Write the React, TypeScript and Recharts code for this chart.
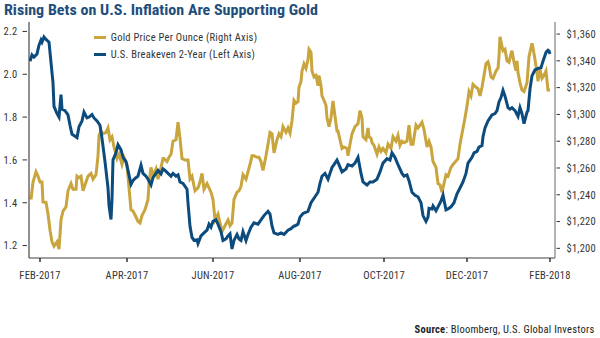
import React from 'react';
import { LineChart, Line, XAxis, YAxis, Legend } from 'recharts';

const FONT = '"Liberation Sans Narrow", "Roboto Condensed", "Arial Narrow", sans-serif';
const GOLD = '#c9a53e';
const BLUE = '#0c4b7e';
const TITLE = '#1f4e7d';
const TEXT = '#333333';
const LS = 0.25;

const tickLabels = ['FEB-2017', 'APR-2017', 'JUN-2017', 'AUG-2017', 'OCT-2017', 'DEC-2017', 'FEB-2018'];
const tickDays = [9, 96, 182, 269, 353, 436, 519];
const leftTicks = [1.2, 1.4, 1.6, 1.8, 2.0, 2.2];
const rightTicks = [1200, 1220, 1240, 1260, 1280, 1300, 1320, 1340, 1360];

const goldDays = [
  0, 2, 5, 7, 9, 11, 12, 15, 17, 19, 21, 23, 26, 28, 30, 32, 35, 37, 40, 42, 45, 46, 48, 50, 52, 55, 57, 60, 62, 65,
  67, 68, 70, 72, 75, 77, 79, 81, 83, 86, 88, 91, 93, 96, 98, 100, 102, 105, 107, 109, 111, 114, 117, 118, 120, 122, 125, 127, 130, 132,
  133, 136, 138, 140, 142, 145, 147, 149, 151, 154, 157, 159, 161, 164, 167, 169, 171, 173, 176, 178, 180, 182, 184, 187, 189, 191, 194, 197, 199, 201,
  203, 206, 208, 210, 212, 215, 217, 219, 221, 223, 226, 228, 230, 232, 235, 237, 239, 241, 243, 246, 248, 250, 252, 255, 257, 259, 261, 263,
  265, 267, 268, 270, 271, 273, 275, 277, 278, 280, 281, 283, 285, 287, 288, 290, 291, 293, 295, 296, 298, 300, 302, 304, 306, 307, 309, 311, 313, 316,
  317, 319, 321, 324, 327, 329, 331, 332, 335, 337, 338, 340, 341, 343, 346, 348, 350, 352, 355, 357, 360, 362, 365, 367, 369, 371, 373, 376, 378, 380,
  382, 385, 387, 389, 391, 393, 396, 398, 400, 402, 405, 407, 409, 411, 412, 415, 417, 420, 422, 425, 427, 429, 431, 434, 436, 438, 440, 442, 445, 447,
  449, 451, 453, 455, 457, 458, 460, 462, 465, 467, 468, 469, 471, 472, 474, 476, 478, 480, 481, 483, 485, 486, 487, 489, 491, 493, 496, 498, 501, 502,
  504, 506, 507, 509, 511, 513, 515, 517, 519,
];
const goldPrice = [
  1236.5, 1249.5, 1257.2, 1253.9, 1249.5, 1249.5, 1234.7, 1234.3, 1225.6, 1213.6, 1204.9, 1201.6, 1204.9, 1199.4, 1221.2, 1227.8, 1231, 1243, 1248.4, 1244.1, 1244.1, 1253.9, 1252.8, 1253.9, 1243, 1249.5, 1253.9, 1256, 1251.7, 1255,
  1269.1, 1284.4, 1287.6, 1285.5, 1286.6, 1289.9, 1281.1, 1283.3, 1275.7, 1267, 1270.3, 1262.6, 1268, 1262.6, 1245.2, 1228.8, 1227.8, 1223.4, 1220.1, 1219, 1224.5, 1228.8, 1236.5, 1248.4, 1260.5, 1253.9, 1259.3, 1251.7, 1260.5, 1267,
  1267, 1264.8, 1268, 1270.3, 1280, 1281.1, 1294.2, 1282.2, 1267, 1265.9, 1265.9, 1251.7, 1253.9, 1243, 1245.2, 1249.5, 1256, 1244.1, 1248.4, 1245.2, 1241.9, 1236.5, 1221.2, 1225.6, 1219, 1212.5, 1216.9, 1221.2, 1216.9, 1219,
  1236.5, 1241.9, 1243, 1246.3, 1255, 1251.7, 1257.2, 1262.6, 1269.1, 1269.1, 1268, 1268, 1264.8, 1258.2, 1269.1, 1277.8, 1286.6, 1285.5, 1271.3, 1281.1, 1285.5, 1283.3, 1290.9, 1286.6, 1289.9, 1286.1, 1295.3, 1310.5,
  1308.4, 1309.5, 1320.3, 1324.7, 1332.4, 1337.8, 1334.5, 1341, 1348.7, 1346.5, 1332.4, 1328, 1329.1, 1321.4, 1329.1, 1321.4, 1313.8, 1310.5, 1306.6, 1297.5, 1290.9, 1297.5, 1310.1, 1298.6, 1287.6, 1287.6, 1281.1, 1274.6, 1275.7, 1274.6,
  1269.1, 1277.8, 1285.5, 1290.9, 1293.1, 1302.9, 1297.5, 1283.3, 1281.1, 1289.9, 1283.3, 1282.2, 1278.9, 1276.8, 1270.3, 1275.7, 1272.4, 1274.6, 1271.3, 1277.8, 1274.6, 1283.3, 1280, 1284.4, 1276.8, 1280, 1278.9, 1280, 1292, 1277.8,
  1277.8, 1292, 1289.9, 1292, 1294.2, 1288.8, 1275.7, 1280, 1275.7, 1264.8, 1260.5, 1248.4, 1247.4, 1241.9, 1245.2, 1255, 1253.9, 1260.5, 1262.6, 1265.2, 1267, 1277.8, 1285.5, 1297.5, 1306.2, 1317.1, 1313.8, 1322.5, 1320.3, 1319.3,
  1313.8, 1320.3, 1329.1, 1337.8, 1339.3, 1336.7, 1328, 1326.9, 1332.4, 1334.5, 1343.2, 1358, 1350.8, 1347.6, 1348.7, 1339.9, 1338.9, 1345.4, 1347.6, 1338.9, 1332.7, 1339.9, 1331.2, 1323.6, 1318.2, 1317.1, 1323.6, 1343.2, 1353, 1349.7,
  1341, 1331.2, 1324.7, 1333.4, 1326.9, 1329.1, 1332.4, 1318.2, 1318.2,
];

const beDays = [
  -1, 1, 3, 6, 8, 10, 11, 13, 15, 18, 20, 22, 23, 26, 28, 30, 31, 34, 37, 39, 41, 43, 46, 48, 51, 53, 56, 58, 61, 63,
  66, 69, 71, 74, 77, 78, 80, 81, 82, 85, 87, 90, 92, 95, 97, 100, 102, 105, 107, 110, 112, 115, 117, 120, 122, 125, 127, 130, 132,
  134, 137, 140, 142, 145, 147, 149, 152, 156, 157, 159, 161, 163, 166, 167, 170, 173, 176, 178, 180, 182, 185, 187, 190, 192, 195, 197, 199, 201,
  203, 206, 208, 210, 212, 215, 217, 220, 223, 227, 230, 233, 237, 239, 241, 243, 247, 250, 253, 257, 260, 263,
  264, 267, 269, 272, 277, 280, 284, 287, 289, 291, 294, 297, 301, 303, 306, 308, 311, 315, 317, 321, 324, 327, 330, 332, 336, 339, 342, 346, 349, 352,
  356, 359, 361, 364, 367, 371, 373, 376, 378, 381, 384, 387,
  390, 392, 395, 397, 398, 401, 402, 405, 407, 410, 412, 415, 417, 420, 423, 426, 429, 432, 435, 437, 441, 443, 446, 448, 451, 452, 454, 457, 459, 461,
  464, 466, 468, 470, 472, 474, 477, 479, 481, 484, 487, 489, 491, 493, 496, 497, 499, 501, 504, 507, 510, 512, 515, 517, 518, 519,
];
const beValues = [
  2.061, 2.09, 2.08, 2.095, 2.136, 2.16, 2.15, 2.174, 2.163, 2.15, 2.055, 1.96, 1.85, 1.816, 1.8, 1.905, 1.837, 1.83, 1.81, 1.762, 1.72, 1.714, 1.704, 1.755, 1.782, 1.823, 1.796, 1.8, 1.812, 1.796,
  1.782, 1.762, 1.7, 1.592, 1.47, 1.388, 1.322, 1.415, 1.6, 1.633, 1.671, 1.647, 1.612, 1.592, 1.551, 1.486, 1.504, 1.517, 1.524, 1.575, 1.537, 1.524, 1.51, 1.483, 1.517, 1.537, 1.551, 1.535, 1.558,
  1.551, 1.537, 1.524, 1.537, 1.524, 1.53, 1.497, 1.49, 1.463, 1.4, 1.29, 1.238, 1.224, 1.227, 1.21, 1.245, 1.259, 1.272, 1.3, 1.286, 1.313, 1.32, 1.3, 1.265, 1.224, 1.231, 1.245, 1.255, 1.184,
  1.224, 1.252, 1.231, 1.224, 1.265, 1.224, 1.252, 1.286, 1.306, 1.3, 1.32, 1.34, 1.36, 1.347, 1.292, 1.259, 1.252, 1.259, 1.252, 1.272, 1.279, 1.292,
  1.292, 1.3, 1.333, 1.35, 1.36, 1.4, 1.428, 1.449, 1.49, 1.524, 1.537, 1.51, 1.565, 1.578, 1.599, 1.578, 1.544, 1.558, 1.578, 1.571, 1.585, 1.612, 1.537, 1.497, 1.483, 1.497, 1.497, 1.51, 1.544, 1.585,
  1.606, 1.599, 1.633, 1.612, 1.578, 1.537, 1.524, 1.53, 1.503, 1.449, 1.435, 1.428,
  1.4, 1.34, 1.313, 1.333, 1.374, 1.371, 1.385, 1.363, 1.381, 1.408, 1.435, 1.367, 1.371, 1.381, 1.4, 1.442, 1.469, 1.497, 1.537, 1.585, 1.612, 1.633, 1.64, 1.66, 1.667, 1.708, 1.749, 1.782, 1.796, 1.81,
  1.816, 1.83, 1.871, 1.891, 1.925, 1.898, 1.844, 1.837, 1.844, 1.83, 1.803, 1.844, 1.816, 1.769, 1.823, 1.83, 1.932, 1.993, 2.02, 2.027, 2.03, 2.061, 2.102, 2.112, 2.109, 2.095,
];

const goldData = goldDays.map((t, i) => ({ t, gold: goldPrice[i] }));
const beData = beDays.map((t, i) => ({ t, be: beValues[i] }));

const LeftTick = (props: any) => {
  const { x, y, payload } = props;
  return (
    <g>
      <line x1={x - 6.5} x2={x - 2} y1={y} y2={y} stroke="#333" strokeWidth={1} />
      <text x={x - 11.5} y={y + 3.8} textAnchor="end" fontSize={10.5} fill={TEXT} fontFamily={FONT} letterSpacing={LS}>
        {Number(payload.value).toFixed(1)}
      </text>
    </g>
  );
};

const RightTick = (props: any) => {
  const { x, y, payload } = props;
  return (
    <g>
      <line x1={x + 1.5} x2={x + 5} y1={y} y2={y} stroke="#333" strokeWidth={1} />
      <text x={x + 11.5} y={y + 3.8} textAnchor="start" fontSize={10.5} fill={TEXT} fontFamily={FONT} letterSpacing={LS}>
        {'$' + Number(payload.value).toLocaleString('en-US')}
      </text>
    </g>
  );
};

const BottomTick = (props: any) => {
  const { x, y, payload } = props;
  const idx = tickDays.indexOf(payload.value);
  return (
    <text x={x} y={y + 16.7} textAnchor="middle" fontSize={10.5} fill={TEXT} fontFamily={FONT} letterSpacing={LS}>
      {idx >= 0 ? tickLabels[idx] : ''}
    </text>
  );
};

const LegendContent = () => (
  <div style={{ fontFamily: FONT, fontSize: 10.5, color: TEXT, lineHeight: '17px', letterSpacing: LS, whiteSpace: 'nowrap' }}>
    {[
      { c: GOLD, l: 'Gold Price Per Ounce (Right Axis)' },
      { c: BLUE, l: 'U.S. Breakeven 2-Year (Left Axis)' },
    ].map((it) => (
      <div key={it.l} style={{ display: 'flex', alignItems: 'center', height: 17 }}>
        <span style={{ display: 'inline-block', width: 12, height: 3, background: it.c, marginRight: 4.7 }} />
        <span>{it.l}</span>
      </div>
    ))}
  </div>
);

export default function App() {
  return (
    <div style={{ position: 'absolute', left: 0, top: 0, width: 600, height: 338, background: '#fff', overflow: 'hidden' }}>
      <LineChart width={600} height={338} margin={{ top: 22, right: 0, bottom: 0, left: 0 }}>
        <XAxis
          type="number"
          dataKey="t"
          domain={[-2, 524]}
          ticks={tickDays}
          allowDataOverflow
          height={46}
          tickSize={4}
          tickMargin={0}
          stroke="#808080"
          strokeWidth={1.5}
          tickLine={{ stroke: '#333' }}
          tick={<BottomTick />}
        />
        <YAxis
          yAxisId="left"
          orientation="left"
          domain={[1.142, 2.244]}
          ticks={leftTicks}
          allowDataOverflow
          width={29}
          tickSize={0}
          tickMargin={0}
          tickLine={false}
          stroke="#222"
          tick={<LeftTick />}
        />
        <YAxis
          yAxisId="right"
          orientation="right"
          domain={[1192.8, 1369]}
          ticks={rightTicks}
          allowDataOverflow
          width={45}
          tickSize={0}
          tickMargin={0}
          tickLine={false}
          stroke="#666"
          tick={<RightTick />}
        />
        <Legend
          content={<LegendContent />}
          wrapperStyle={{ position: 'absolute', left: 94, top: 29, width: 'auto' }}
        />
        <Line
          yAxisId="right"
          data={goldData}
          dataKey="gold"
          type="linear"
          stroke={GOLD}
          strokeWidth={3}
          dot={false}
          isAnimationActive={false}
          name="Gold Price Per Ounce (Right Axis)"
        />
        <Line
          yAxisId="left"
          data={beData}
          dataKey="be"
          type="linear"
          stroke={BLUE}
          strokeWidth={3}
          dot={false}
          isAnimationActive={false}
          name="U.S. Breakeven 2-Year (Left Axis)"
        />
      </LineChart>
      <svg width={600} height={338} style={{ position: 'absolute', left: 0, top: 0, pointerEvents: 'none' }}>
        <text x={4} y={15} fontFamily={FONT} fontWeight="bold" fontSize={15.5} fill={TITLE} textLength={314} lengthAdjust="spacingAndGlyphs">
          Rising Bets on U.S. Inflation Are Supporting Gold
        </text>
        <text x={594.5} y={332.7} textAnchor="end" fontFamily={FONT} fontSize={10.5} fill="#222" letterSpacing={LS}>
          <tspan fontWeight="bold">Source</tspan>
          <tspan>: Bloomberg, U.S. Global Investors</tspan>
        </text>
      </svg>
    </div>
  );
}
